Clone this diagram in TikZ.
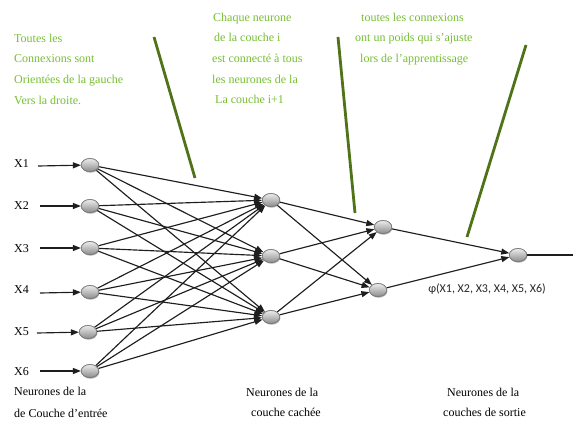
\documentclass[tikz,border=0pt]{standalone}
\usepackage{fontspec}
\setmainfont{Liberation Serif}
\newfontfamily\labelsans{Carlito}
\usetikzlibrary{shapes.geometric,arrows.meta,shadows}
\definecolor{notegreen}{RGB}{118,190,50}
\definecolor{pointergreen}{RGB}{80,115,25}
\definecolor{wirecol}{RGB}{30,30,30}

\begin{document}
\begin{tikzpicture}[x=1pt,y=-1pt,
  neuron/.style={ellipse, minimum width=17.5pt, minimum height=13pt, inner sep=0pt,
    draw=gray!95!black, line width=0.7pt, top color=gray!15, bottom color=gray!90,
    drop shadow={opacity=0.35, shadow xshift=0.6pt, shadow yshift=-1.2pt}},
  wire/.style={draw=wirecol, line width=1.15pt, -{Triangle[length=8pt,width=6pt]}},
  plainwire/.style={draw=wirecol, line width=1.15pt},
  note/.style={anchor=base west, inner sep=0pt, text=notegreen, font=\fontsize{12}{14}\selectfont},
  caption/.style={anchor=base west, inner sep=0pt, text=black, font=\fontsize{12}{14}\selectfont},
  pointer/.style={draw=pointergreen, line width=2.8pt},
]
\useasboundingbox (0,0) rectangle (573,421);

% annotation texts
\node[note] (n1a) at (14,42) {Toutes les};
\node[note] (n1b) at (14,62.5) {Connexions sont};
\node[note] (n1c) at (14,83) {Orientées de la gauche};
\node[note] (n1d) at (14,104) {Vers la droite.};

\node[note] (n2a) at (213,21) {Chaque neurone};
\node[note] (n2b) at (214,41.7) {de la couche i};
\node[note] (n2c) at (212,62.3) {est connecté à tous};
\node[note] (n2d) at (212,83) {les neurones de la};
\node[note] (n2e) at (215,103.5) {La couche i+1};

\node[note] (n3a) at (361,21) {toutes les connexions};
\node[note] (n3b) at (355,41.7) {ont un poids qui s’ajuste};
\node[note] (n3c) at (360,62.3) {lors de l’apprentissage};

% pointer strokes
\coordinate (p1s) at (154,37);  \coordinate (p1e) at (195,178);
\coordinate (p2s) at (338,37);  \coordinate (p2e) at (355,213);
\coordinate (p3s) at (526,45);  \coordinate (p3e) at (467,237);
\draw[pointer] (p1s) -- (p1e);
\draw[pointer] (p2s) -- (p2e);
\draw[pointer] (p3s) -- (p3e);

% input labels
\node[caption] (x1) at (14,167) {X1};
\node[caption] (x2) at (14,209) {X2};
\node[caption] (x3) at (14,252) {X3};
\node[caption] (x4) at (14,293) {X4};
\node[caption] (x5) at (14,335) {X5};
\node[caption] (x6) at (14,375) {X6};

% neuron positions
\node[neuron] (in1) at (90,165) {};
\node[neuron] (in2) at (90,206) {};
\node[neuron] (in3) at (90,248) {};
\node[neuron] (in4) at (90,292) {};
\node[neuron] (in5) at (88,332) {};
\node[neuron] (in6) at (90,371) {};

\node[neuron] (h1) at (271,200) {};
\node[neuron] (h2) at (271,256) {};
\node[neuron] (h3) at (271,317) {};

\node[neuron] (k1) at (383,227) {};
\node[neuron] (k2) at (378,290) {};

\node[neuron] (out) at (518,255) {};

% feed arrows
\coordinate (a1) at (38,166);
\coordinate (a2) at (40,206);
\coordinate (a3) at (40,248);
\coordinate (a4) at (40,293);
\coordinate (a5) at (37,333);
\coordinate (a6) at (40,371);
\draw[wire] (a1) -- (in1);
\draw[wire] (a2) -- (in2);
\draw[wire] (a3) -- (in3);
\draw[wire] (a4) -- (in4);
\draw[wire] (a5) -- (in5);
\draw[wire] (a6) -- (in6);

% full connections between layers
\foreach \i in {in1,in2,in3,in4,in5,in6}
  \foreach \j in {h1,h2,h3}
    \draw[wire] (\i) -- (\j);
\foreach \i in {h1,h2,h3}
  \foreach \j in {k1,k2}
    \draw[wire] (\i) -- (\j);
\draw[wire] (k1) -- (out);
\draw[wire] (k2) -- (out);
\coordinate (yend) at (573,255);
\draw[plainwire] (out) -- (yend);

% neurons drawn again on top of the wires
\foreach \p in {(90,165),(90,206),(90,248),(90,292),(88,332),(90,371),
                (271,200),(271,256),(271,317),(383,227),(378,290),(518,255)}
  \node[neuron] at \p {};

% output formula
\node[anchor=base, inner sep=0pt, text=black!85, font=\labelsans\fontsize{12}{14}\selectfont] (phi) at (487,292) {φ(X1, X2, X3, X4, X5, X6)};

% layer captions
\node[caption] (c1a) at (14,395) {Neurones de la};
\node[caption] (c1b) at (14,417) {de Couche d’entrée};
\node[caption] (c2a) at (246,396.5) {Neurones de la};
\node[caption] (c2b) at (251,416.5) {couche cachée};
\node[caption] (c3a) at (447,396.5) {Neurones de la};
\node[caption] (c3b) at (443,416.5) {couches de sortie};
\end{tikzpicture}
\end{document}
